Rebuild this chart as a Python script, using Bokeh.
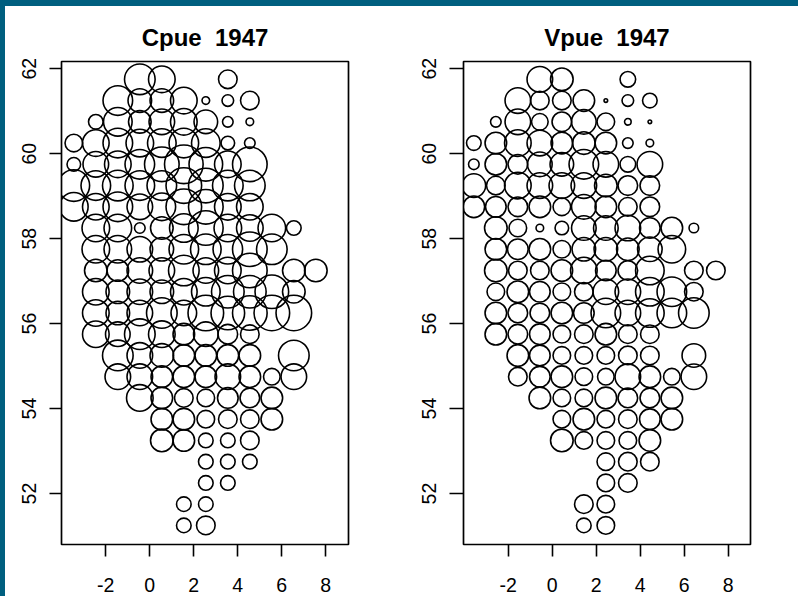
from bokeh.plotting import figure
from bokeh.layouts import row
from bokeh.models import ColumnDataSource, FixedTicker, Range1d
from bokeh.embed import file_html
from bokeh.resources import INLINE

lat_rows = [61.75,61.25,60.75,60.25,59.75,59.25,58.75,58.25,57.75,57.25,56.75,56.25,55.75,55.25,54.75,54.25,53.75,53.25,52.75,52.25,51.75,51.25]
lon_c = [-3.45,-2.45,-1.45,-0.45,0.55,1.55,2.55,3.55,4.55,5.55,6.55,7.55]
lon_v = [-3.56,-2.56,-1.56,-0.56,0.44,1.44,2.44,3.44,4.44,5.44,6.44,7.44]
x_ticks = [-2,0,2,4,6,8]
y_ticks = [52,54,56,58,60,62]

# values per grid cell (0 = no observation), columns follow the longitudes above
cpue = [
 [0,0,0,32,28,0,0,20,0,0,0,0],
 [0,0,31,25,25,28,9,13,20,0,0,0],
 [0,16,30,24,27,28,25,12,9,0,0,0],
 [19,28,31,29,30,31,30,15,12,0,0,0],
 [15,27,28,31,36,40,35,28,36,0,0,0],
 [33,31,32,31,31,37,36,32,32,0,0,0],
 [30,28,31,27,29,37,36,28,28,0,0,0],
 [0,29,29,12,24,30,36,29,28,29,16,0],
 [0,29,29,27,25,31,32,31,36,32,0,0],
 [0,24,23,27,27,32,27,28,36,0,24,24],
 [0,28,25,27,25,28,30,34,34,35,24,0],
 [0,28,25,27,32,27,37,35,36,37,37,0],
 [0,28,26,32,28,23,26,21,20,0,0,0],
 [0,0,32,27,25,23,23,23,23,0,32,0],
 [0,0,27,27,23,23,23,27,23,18,27,0],
 [0,0,0,28,23,20,19,22,21,23,0,0],
 [0,0,0,0,23,23,19,20,20,23,0,0],
 [0,0,0,0,24,23,16,16,20,0,0,0],
 [0,0,0,0,0,0,16,16,16,0,0,0],
 [0,0,0,0,0,0,16,16,0,0,0,0],
 [0,0,0,0,0,16,16,0,0,0,0,0],
 [0,0,0,0,0,16,20,0,0,0,0,0],
]
vpue = [
 [0,0,0,27,24,0,0,17,0,0,0,0],
 [0,0,27,20,20,23,5,13,16,0,0,0],
 [0,12,27,18,21,26,19,8,5,0,0,0],
 [16,23,28,27,23,24,23,12,9,0,0,0],
 [12,23,21,26,25,31,27,17,27,0,0,0],
 [25,20,28,27,27,27,24,21,21,0,0,0],
 [23,22,21,23,19,26,23,20,21,0,0,0],
 [0,24,19,9,15,26,26,27,22,23,11,0],
 [0,23,22,23,19,25,25,24,26,29,0,0],
 [0,24,20,20,23,28,22,21,30,0,20,20],
 [0,19,23,22,19,20,27,27,30,31,20,0],
 [0,23,21,21,23,22,31,27,30,31,32,0],
 [0,23,21,22,19,20,23,20,20,0,0,0],
 [0,0,23,22,19,19,19,20,20,0,25,0],
 [0,0,20,22,23,19,18,27,23,18,27,0],
 [0,0,0,23,19,19,23,21,21,23,0,0],
 [0,0,0,0,19,23,19,20,22,23,0,0],
 [0,0,0,0,24,19,19,19,23,0,0,0],
 [0,0,0,0,0,0,19,20,20,0,0,0],
 [0,0,0,0,0,0,19,20,0,0,0,0],
 [0,0,0,0,0,20,19,0,0,0,0,0],
 [0,0,0,0,0,16,19,0,0,0,0,0],
]

LW = 1.6

def panel(title, lons, grid, xr, width, left, right, tick_out):
    xs, ys, sz = [], [], []
    for lat, vals in zip(lat_rows, grid):
        for lon, v in zip(lons, vals):
            if v:
                xs.append(lon); ys.append(lat); sz.append(v - 1.4)
    p = figure(width=width, height=590, output_backend="svg", toolbar_location=None,
               x_range=Range1d(*xr), y_range=Range1d(50.8, 62.17),
               min_border_left=left, min_border_right=right,
               min_border_top=55, min_border_bottom=52,
               title=title, background_fill_color="white", border_fill_color="white")
    p.title.align = "center"
    p.title.text_font = "Liberation Sans"
    p.title.text_font_style = "bold"
    p.title.text_font_size = "24px"
    p.title.text_color = "black"
    p.title.standoff = 21
    p.grid.visible = False
    p.outline_line_color = "black"
    p.outline_line_width = 1.7
    p.outline_line_alpha = 1
    for ax, ticks in ((p.xaxis[0], x_ticks), (p.yaxis[0], y_ticks)):
        ax.ticker = FixedTicker(ticks=ticks)
        ax.axis_line_color = None
        ax.minor_tick_line_color = None
        ax.major_tick_line_color = "black"
        ax.major_tick_line_width = 1.6
        ax.major_tick_in = 0
        ax.major_label_overrides = {t: str(t) for t in ticks}
        ax.major_label_text_font = "Liberation Sans"
        ax.major_label_text_font_size = "19.5px"
        ax.major_label_text_color = "black"
    p.xaxis[0].major_tick_out = 12
    p.yaxis[0].major_tick_out = tick_out
    p.xaxis[0].major_label_standoff = 21
    p.yaxis[0].major_label_standoff = 13
    p.yaxis[0].major_label_orientation = "vertical"
    src = ColumnDataSource(dict(x=xs, y=ys, s=sz))
    p.scatter("x", "y", size="s", source=src, marker="circle", fill_color=None,
              line_color="black", line_width=LW)
    return p

p1 = panel("Cpue\u00a0\u00a01947", lon_c, cpue, (-4.01, 9.035), 397, 56, 54, 12)
p2 = panel("Vpue\u00a0\u00a01947", lon_v, vpue, (-4.03, 9.015), 396, 61, 48, 14)
layout = row(p1, p2, spacing=0)
layout.styles = {"border-top": "6px solid #005f7f",
                 "border-left": "5px solid #005f7f", "background": "white"}
open("out.html", "w").write(file_html(layout, INLINE))
